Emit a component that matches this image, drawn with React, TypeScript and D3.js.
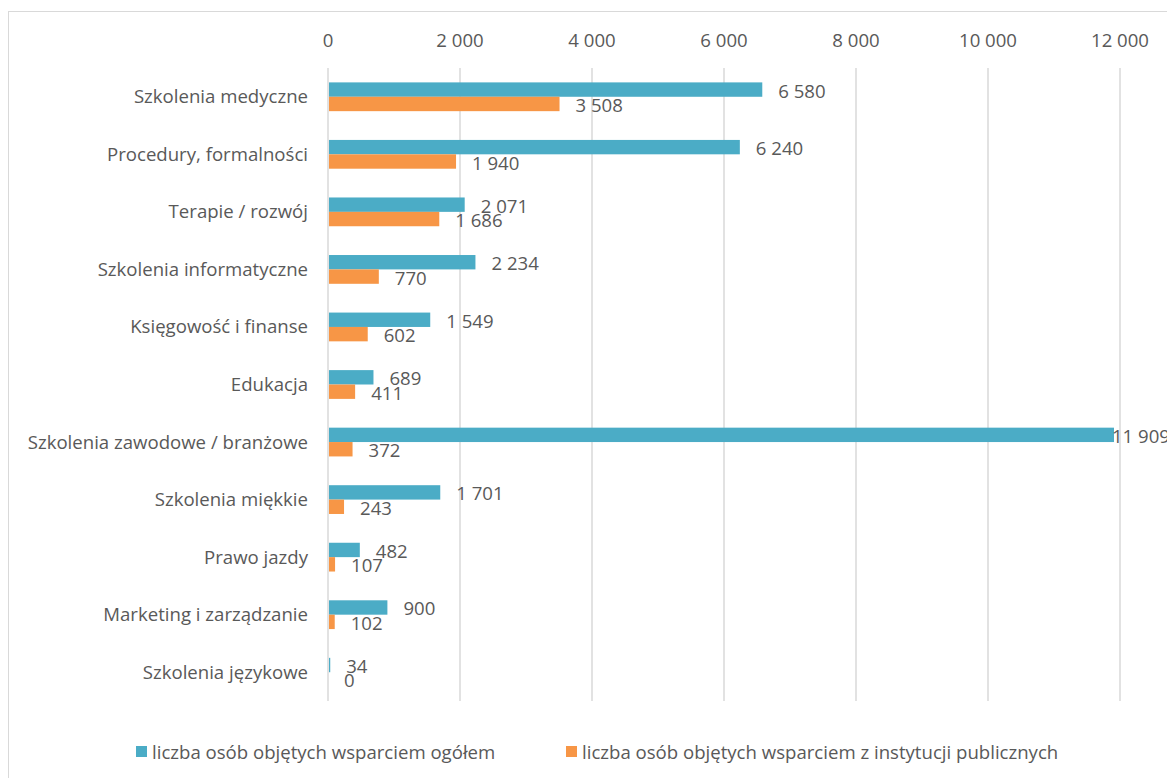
import React from 'react';
import * as d3 from 'd3';

const categories = [
  'Szkolenia medyczne',
  'Procedury, formalności',
  'Terapie / rozwój',
  'Szkolenia informatyczne',
  'Księgowość i finanse',
  'Edukacja',
  'Szkolenia zawodowe / branżowe',
  'Szkolenia miękkie',
  'Prawo jazdy',
  'Marketing i zarządzanie',
  'Szkolenia językowe',
];
const totalValues = [6580, 6240, 2071, 2234, 1549, 689, 11909, 1701, 482, 900, 34];
const publicValues = [3508, 1940, 1686, 770, 602, 411, 372, 243, 107, 102, 0];
const seriesNames = [
  'liczba osób objętych wsparciem ogółem',
  'liczba osób objętych wsparciem z instytucji publicznych',
];
const tickValues = [0, 2000, 4000, 6000, 8000, 10000, 12000];

const W = 1167;
const H = 778;
const FONT = '"Open Sans", Lato, sans-serif';
const FS = 18.6;
const TEXT = '#595959';
const GRID = '#d9d9d9';
const COLORS = ['#4bacc6', '#f79646'];

const fmt = d3.formatLocale({
  decimal: ',',
  thousands: ' ',
  grouping: [3],
  currency: ['', ''],
}).format(',d');

const App: React.FC = () => {
  // plot area
  const x = d3.scaleLinear().domain([0, 12000]).range([328, 1120]);
  const y = d3.scaleBand<string>()
    .domain(categories)
    .range([68, 701])
    .paddingInner(0.5)
    .paddingOuter(0.25);
  const inner = d3.scaleBand<number>()
    .domain([0, 1])
    .range([0, y.bandwidth()]);

  const series = [totalValues, publicValues];

  return (
    <svg
      width={W}
      height={H}
      style={{ position: 'absolute', left: 0, top: 0, background: '#fff' }}
      fontFamily={FONT}
    >
      {/* chart border */}
      <rect x={8.5} y={11.5} width={W + 20} height={H + 20} fill="none" stroke={GRID} />

      {/* gridlines + tick labels */}
      {tickValues.map(t => (
        <g key={t}>
          <line
            x1={x(t)} x2={x(t)} y1={68} y2={701}
            stroke={GRID} strokeWidth={1.5}
          />
          <text
            x={x(t)} y={40} dy="0.35em"
            textAnchor="middle" fontSize={FS} fill={TEXT}
          >
            {fmt(t)}
          </text>
        </g>
      ))}

      {/* category labels */}
      {categories.map(c => (
        <text
          key={c}
          x={308}
          y={(y(c) as number) + y.bandwidth() / 2}
          dy="0.35em"
          textAnchor="end"
          fontSize={FS}
          fill={TEXT}
        >
          {c}
        </text>
      ))}

      {/* bars + value labels */}
      {series.map((vals, si) => (
        <g key={si}>
          {categories.map((c, i) => {
            const by = (y(c) as number) + (inner(si) as number);
            const bw = x(vals[i]) - x(0);
            const nearEdge = vals[i] > 11000;
            return (
              <g key={c}>
                <rect
                  x={x(0) + 1}
                  y={by}
                  width={Math.max(bw - 1, 0)}
                  height={inner.bandwidth()}
                  fill={COLORS[si]}
                />
                <text
                  x={nearEdge ? x(vals[i]) - 2 : x(vals[i]) + 16}
                  y={by + inner.bandwidth() / 2 + 1.5}
                  dy="0.35em"
                  fontSize={FS}
                  fill={TEXT}
                >
                  {fmt(vals[i])}
                </text>
              </g>
            );
          })}
        </g>
      ))}

      {/* legend */}
      {seriesNames.map((name, i) => {
        const lx = i === 0 ? 136 : 566;
        return (
          <g key={name} transform={`translate(${lx},746)`}>
            <rect width={11} height={11} fill={COLORS[i]} />
            <text x={16} y={6} dy="0.35em" fontSize={FS} fill={TEXT}>
              {name}
            </text>
          </g>
        );
      })}
    </svg>
  );
};

export default App;
